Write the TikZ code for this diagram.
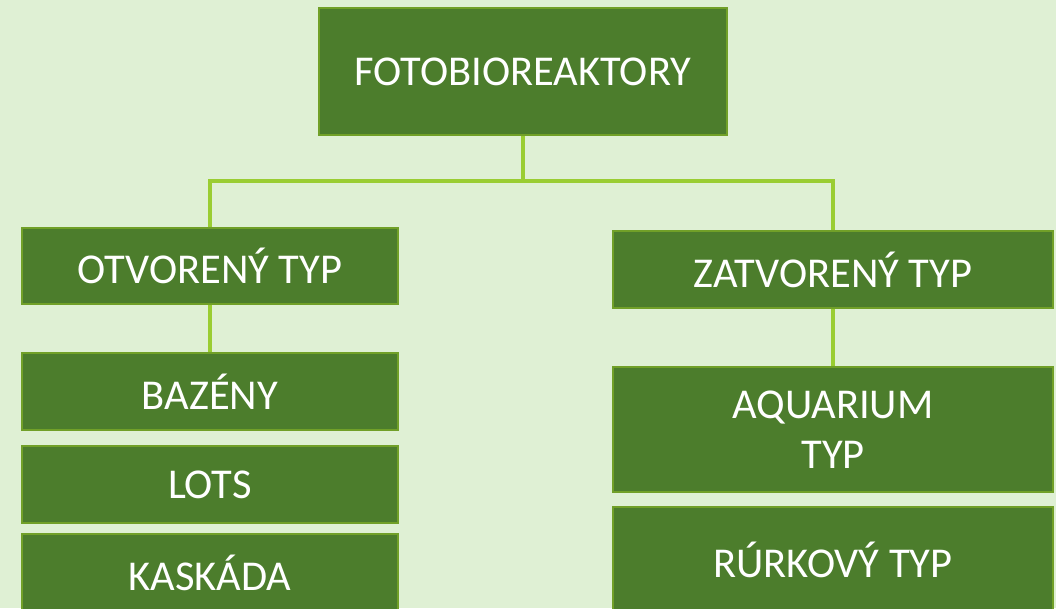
\documentclass[tikz,border=0pt]{standalone}
\usepackage{fontspec}
\setmainfont{Carlito}
\definecolor{bgc}{RGB}{223,240,212}
\definecolor{boxfill}{RGB}{76,125,44}
\definecolor{boxline}{RGB}{113,160,40}
\definecolor{conn}{RGB}{154,205,50}
\tikzset{
  box/.style={draw=boxline, line width=2.5pt, fill=boxfill, text=white, inner sep=0pt, align=center,
    font=\fontsize{42.5}{50}\selectfont},
  link/.style={draw=conn, line width=3.5pt}
}
\begin{document}
\begin{tikzpicture}[x=1pt,y=-1pt]
\useasboundingbox (0,0) rectangle (1056,608);
\clip (0,0) rectangle (1056,608);
\fill[bgc] (0,0) rectangle (1056,608);
\node[box, minimum width=408pt, minimum height=127pt] (top) at (523,71.5) {FOTOBIOREAKTORY};
\node[box, minimum width=376pt, minimum height=76pt] (otv) at (210,266) {OTVORENÝ TYP};
\node[box, minimum width=440pt, minimum height=77pt] (zat) at (833,269.5) {ZATVORENÝ TYP};
\node[box, minimum width=376pt, minimum height=77pt] (baz) at (210,391.5) {BAZÉNY};
\node[box, minimum width=376pt, minimum height=77pt] (lots) at (210,484.5) {LOTS};
\node[box, minimum width=376pt, minimum height=77pt] (kas) at (210,572.5) {KASKÁDA};
\node[box, minimum width=440pt, minimum height=125pt] (aqu) at (833,429.5) {AQUARIUM\\TYP};
\node[box, minimum width=440pt, minimum height=105pt] (rur) at (833,559.5) {RÚRKOVÝ TYP};
\coordinate (j) at (523,181);
\draw[link] (top.south) -- (j);
\draw[link] (j) -| (otv.north);
\draw[link] (j) -| (zat.north);
\draw[link] (otv.south) -- (baz.north);
\draw[link] (zat.south) -- (aqu.north);
\end{tikzpicture}
\end{document}
